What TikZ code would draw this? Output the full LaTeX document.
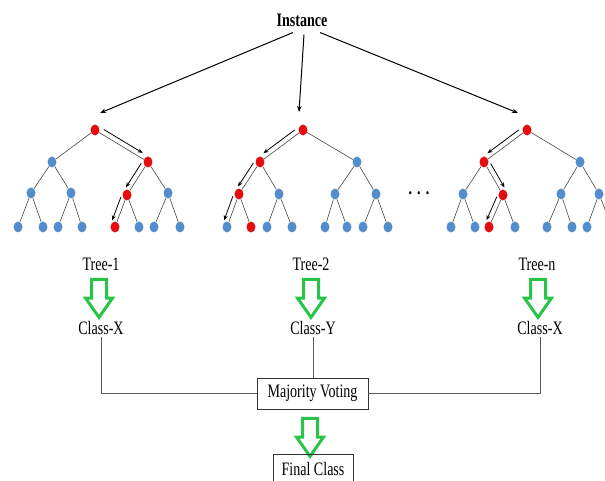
\documentclass[tikz,border=0pt]{standalone}
\usepackage{fontspec}
\setmainfont{Liberation Serif}[FakeStretch=0.74]
\usetikzlibrary{calc,arrows.meta,shapes.geometric,shapes.arrows}
\definecolor{nred}{RGB}{228,12,12}
\definecolor{nblue}{RGB}{84,141,204}
\definecolor{garrow}{RGB}{40,196,72}
\definecolor{edgec}{RGB}{70,70,70}
\definecolor{linec}{RGB}{90,90,90}
\tikzset{
 tn/.style={ellipse,minimum width=9pt,minimum height=11pt,inner sep=0pt},
 bn/.style={tn,fill=nblue},
 rn/.style={tn,fill=nred},
 tedge/.style={draw=edgec,line width=0.6pt},
 pathar/.style={draw=black,line width=0.8pt,-{Stealth[length=5pt,width=4pt]}},
 instar/.style={draw=black,line width=1pt,-{Stealth[length=6pt,width=4.5pt]}},
 lbl/.style={font=\fontsize{19}{20}\selectfont,inner sep=2pt},
 garr/.style={single arrow,draw=garrow,line width=3pt,fill=white,shape border rotate=270,minimum height=38pt,inner sep=6pt,single arrow head extend=6pt,single arrow tip angle=70},
 boxn/.style={draw=black!80,line width=0.7pt,lbl,minimum width=111pt,minimum height=31pt},
 conn/.style={draw=linec,line width=0.7pt}
}
\newcommand\patharr[4]{\draw[pathar] ($(#1)!0.12!(#2)!5pt!#3:(#2)$) -- ($(#2)!0.15!(#1)!5pt!#4:(#1)$);}
\begin{document}
\begin{tikzpicture}[x=1pt,y=-1pt]
\useasboundingbox (0,0) rectangle (605,481);
\clip (0,0) rectangle (605,481);
% ---------- Tree 1 ----------
\node[rn] (a) at (95,130) {};
\node[bn] (aL) at (52,162) {};
\node[rn] (aR) at (148,162) {};
\node[bn] (aLL) at (31,193) {};
\node[bn] (aLR) at (71,193) {};
\node[rn] (aRL) at (127,195) {};
\node[bn] (aRR) at (168,193) {};
\node[bn] (aLLL) at (18,227) {};
\node[bn] (aLLR) at (43,227) {};
\node[bn] (aLRL) at (58,227) {};
\node[bn] (aLRR) at (82,227) {};
\node[rn] (aRLL) at (115,227) {};
\node[bn] (aRLR) at (139,227) {};
\node[bn] (aRRL) at (154,227) {};
\node[bn] (aRRR) at (180,227) {};
% ---------- Tree 2 ----------
\node[rn] (b) at (303,130) {};
\node[rn] (bL) at (260,162) {};
\node[bn] (bR) at (357,162) {};
\node[rn] (bLL) at (239,194) {};
\node[bn] (bLR) at (279,194) {};
\node[bn] (bRL) at (335,194) {};
\node[bn] (bRR) at (376,194) {};
\node[bn] (bLLL) at (227,227) {};
\node[rn] (bLLR) at (251,227) {};
\node[bn] (bLRL) at (267,227) {};
\node[bn] (bLRR) at (292,227) {};
\node[bn] (bRLL) at (325,227) {};
\node[bn] (bRLR) at (347,227) {};
\node[bn] (bRRL) at (363,227) {};
\node[bn] (bRRR) at (388,227) {};
% ---------- Tree n ----------
\node[rn] (c) at (527,130) {};
\node[rn] (cL) at (484,162) {};
\node[bn] (cR) at (580,162) {};
\node[bn] (cLL) at (463,194) {};
\node[rn] (cLR) at (503,195) {};
\node[bn] (cRL) at (561,194) {};
\node[bn] (cRR) at (599,194) {};
\node[bn] (cLLL) at (451,227) {};
\node[bn] (cLLR) at (475,227) {};
\node[rn] (cLRL) at (489,227) {};
\node[bn] (cLRR) at (515,227) {};
\node[bn] (cRLL) at (547,227) {};
\node[bn] (cRLR) at (572,227) {};
\node[bn] (cRRL) at (587,227) {};
\node[bn] (cRRR) at (612,227) {};
% ---------- tree edges ----------
\foreach \t in {a,b,c}{
  \foreach \p/\q in {/L,/R,L/LL,L/LR,R/RL,R/RR,LL/LLL,LL/LLR,LR/LRL,LR/LRR,RL/RLL,RL/RLR,RR/RRL,RR/RRR}{
    \draw[tedge] (\t\p) -- (\t\q);
  }
}
% ---------- decision path arrows ----------
\patharr{a}{aR}{90}{-90}
\patharr{aR}{aRL}{-90}{90}
\patharr{aRL}{aRLL}{-90}{90}
\patharr{b}{bL}{-90}{90}
\patharr{bL}{bLL}{-90}{90}
\patharr{bLL}{bLLL}{-90}{90}
\patharr{c}{cL}{-90}{90}
\patharr{cL}{cLR}{90}{-90}
\patharr{cLR}{cLRL}{-90}{90}
% ---------- dots ----------
\node[lbl,anchor=base] (dots) at (419,195) {\textbf{.\hspace{5pt}.\hspace{5pt}.}};
% ---------- instance ----------
\node[lbl,font=\fontsize{19}{20}\selectfont\bfseries] (inst) at (302,20) {Instance};
\coordinate (e1) at (100,113);
\coordinate (e2) at (299,112);
\coordinate (e3) at (518,113);
\draw[instar] ([xshift=-9pt,yshift=-4pt]inst.south) -- (e1);
\draw[instar] ([xshift=2pt,yshift=-6pt]inst.south) -- (e2);
\draw[instar] ([xshift=18pt,yshift=-4pt]inst.south) -- (e3);
% ---------- labels ----------
\node[lbl] (t1) at (101,264) {Tree-1};
\node[lbl] (t2) at (311,264) {Tree-2};
\node[lbl] (t3) at (537,264) {Tree-n};
\node[garr] (g1) at (99,293) {};
\node[garr] (g2) at (311,293) {};
\node[garr] (g3) at (538,293) {};
\node[lbl] (c1) at (101,328) {Class-X};
\node[lbl] (c2) at (313,328) {Class-Y};
\node[lbl] (c3) at (540,328) {Class-X};
\node[boxn,fill=white] (mv) at (312.5,393.5) {Majority Voting};
\node[garr] (g4) at (310,432) {};
\node[boxn,minimum width=80pt,minimum height=30pt] (fc) at (313,469) {Final Class};
% ---------- connectors ----------
\draw[conn] (c1) |- (mv.west);
\draw[conn] (c2) -- (c2 |- mv.north);
\draw[conn] (c3) |- (mv.east);
\end{tikzpicture}
\end{document}
